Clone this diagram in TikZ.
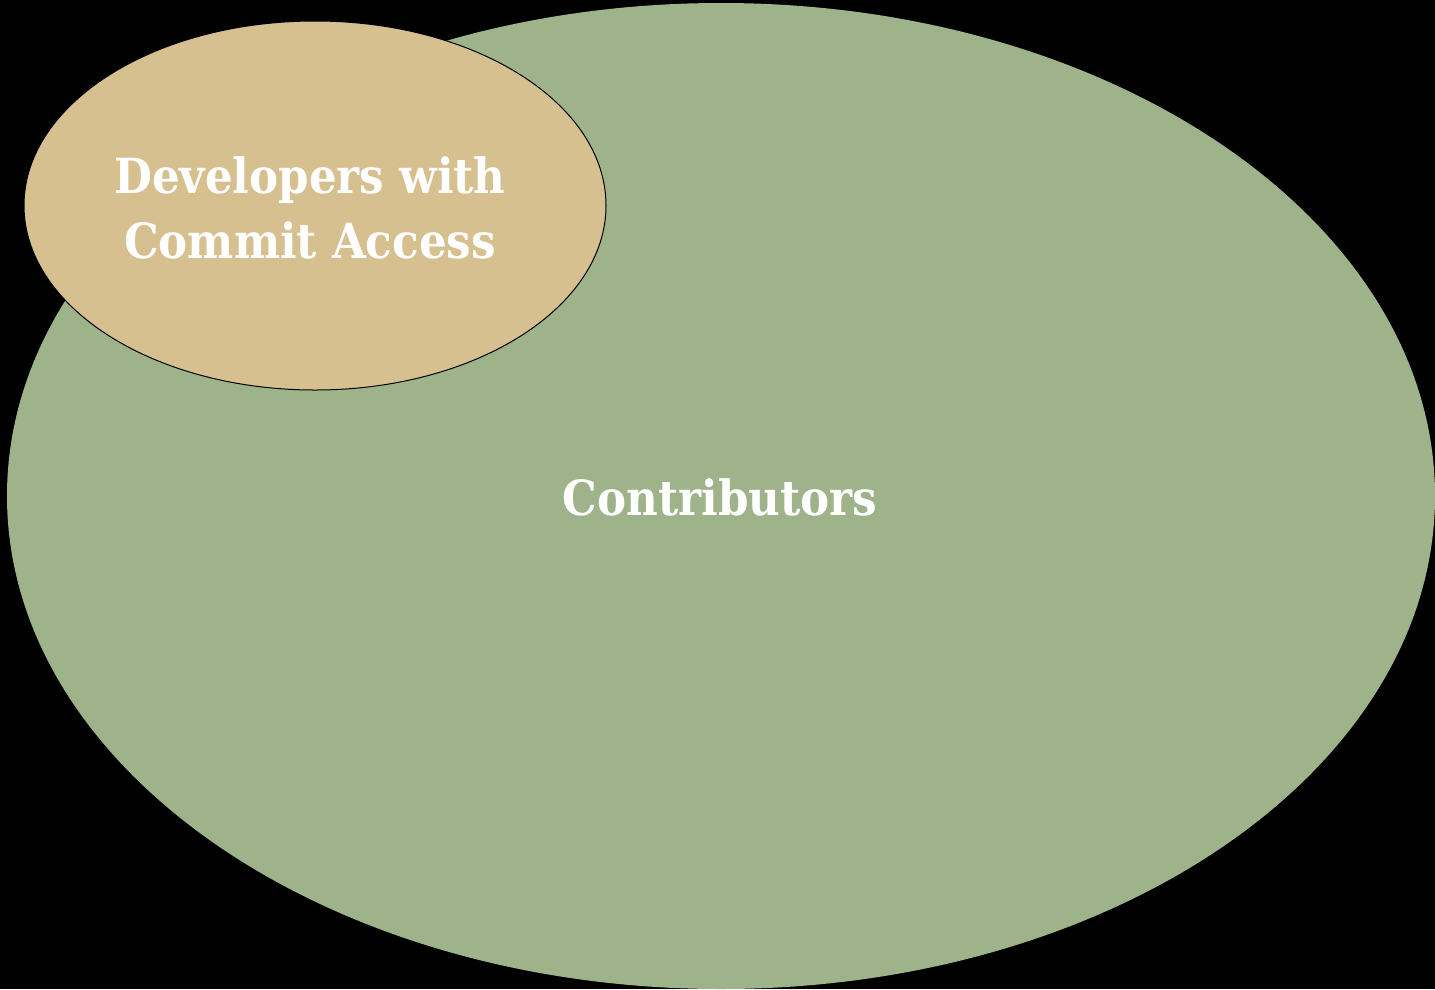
\documentclass[tikz,border=0pt]{standalone}
\usepackage{fontspec}
\setmainfont{DejaVu Serif Condensed}
\definecolor{greenfill}{HTML}{9EB38A}
\definecolor{tanfill}{HTML}{D6C090}
\begin{document}
\begin{tikzpicture}[x=1pt,y=-1pt,
  lbl/.style={text=white,font=\bfseries\fontsize{48.5}{65}\selectfont,align=center}]
\fill[black] (0,0) rectangle (1435,989);
\useasboundingbox (0,0) rectangle (1435,989);
\fill[greenfill] (721,496) ellipse [x radius=714, y radius=493];
\node[lbl] (contrib) at (720,497) {Contributors};
\filldraw[fill=tanfill,draw=black,line width=1pt] (315,205.5) ellipse [x radius=291, y radius=184.5];
\node[lbl] (dev) at (310,208) {Developers with\\Commit Access};
\end{tikzpicture}
\end{document}
